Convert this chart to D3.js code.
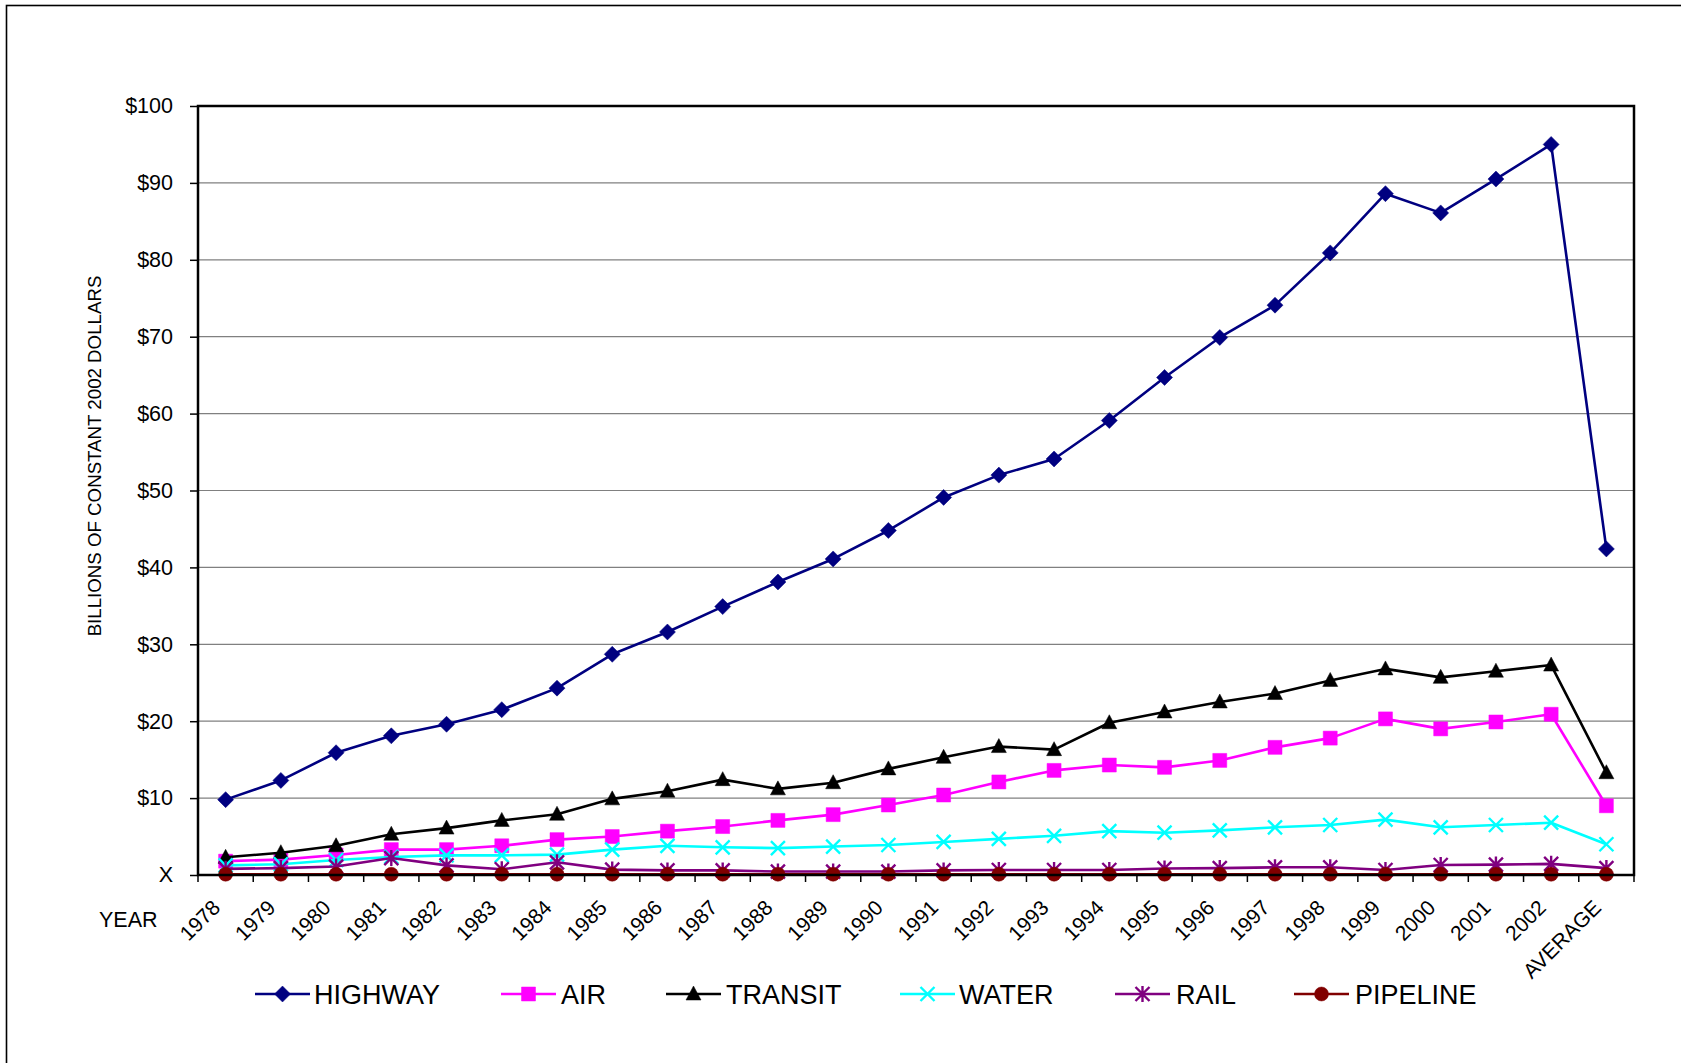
<!DOCTYPE html>
<html>
<head>
<meta charset="utf-8">
<script src="https://cdn.jsdelivr.net/npm/d3@7"></script>
<style>
  html, body { margin: 0; padding: 0; background: #fff; }
  svg { display: block; font-family: "Liberation Sans", Arial, sans-serif; }
</style>
</head>
<body>
<svg id="chart" width="1681" height="1063"></svg>
<script>
// Categories along the x axis
const categories = ["1978","1979","1980","1981","1982","1983","1984","1985","1986","1987",
  "1988","1989","1990","1991","1992","1993","1994","1995","1996","1997","1998","1999",
  "2000","2001","2002","AVERAGE"];

// Spending by mode, billions of constant 2002 dollars
const highway  = [9.8,12.3,15.9,18.1,19.6,21.5,24.3,28.7,31.6,34.9,38.1,41.1,44.8,49.1,52.0,54.1,59.1,64.7,69.9,74.1,80.9,88.6,86.1,90.5,95.0,42.4];
const air      = [1.8,2.0,2.6,3.3,3.3,3.8,4.6,5.0,5.7,6.3,7.1,7.85,9.1,10.4,12.1,13.6,14.3,14.0,14.9,16.6,17.8,20.3,19.0,19.9,20.9,9.0];
const transit  = [2.3,2.9,3.8,5.3,6.1,7.1,7.9,9.9,10.9,12.4,11.2,12.0,13.8,15.3,16.7,16.3,19.8,21.2,22.5,23.6,25.3,26.8,25.7,26.5,27.3,13.3];
const water    = [1.25,1.4,1.95,2.35,2.55,2.55,2.65,3.3,3.8,3.6,3.5,3.7,3.9,4.3,4.7,5.1,5.7,5.5,5.8,6.2,6.5,7.2,6.2,6.5,6.8,4.0];
const rail     = [0.8,0.9,1.1,2.2,1.25,0.75,1.65,0.7,0.6,0.6,0.45,0.45,0.45,0.6,0.65,0.65,0.65,0.85,0.9,1.0,1.0,0.65,1.3,1.35,1.45,0.9];
const pipeline = [0.1,0.1,0.1,0.1,0.1,0.1,0.1,0.1,0.1,0.1,0.1,0.1,0.1,0.1,0.1,0.1,0.1,0.1,0.1,0.1,0.1,0.1,0.1,0.1,0.1,0.1];

// Y axis tick values and labels
const yTickValues = [0,10,20,30,40,50,60,70,80,90,100];
const yTickLabels = ["X","$10","$20","$30","$40","$50","$60","$70","$80","$90","$100"];

const seriesNames = ["HIGHWAY","AIR","TRANSIT","WATER","RAIL","PIPELINE"];
const seriesData = [highway, air, transit, water, rail, pipeline];
const seriesColors = ["#000080","#FF00FF","#000000","#00FFFF","#800080","#800000"];
const seriesMarkers = ["diamond","square","triangle","cross","asterisk","circle"];

const svg = d3.select("#chart");
const plot = { left: 198, right: 1634, top: 106, bottom: 875 };

const x = d3.scaleBand().domain(categories).range([plot.left, plot.right]).padding(0);
const y = d3.scaleLinear().domain([0, 100]).range([plot.bottom, plot.top]);
const cx = c => x(c) + x.bandwidth() / 2;

// outer frame of the chart
svg.append("rect")
  .attr("x", 6.5).attr("y", 5.5).attr("width", 1700).attr("height", 1100)
  .attr("fill", "none").attr("stroke", "#000").attr("stroke-width", 1.6);

// horizontal gridlines
svg.append("g").selectAll("line").data(yTickValues.slice(1, -1)).join("line")
  .attr("x1", plot.left).attr("x2", plot.right)
  .attr("y1", d => y(d)).attr("y2", d => y(d))
  .attr("stroke", "#808080").attr("stroke-width", 1.2);

// y axis
const yAxis = d3.axisLeft(y).tickValues(yTickValues).tickSize(8).tickPadding(17)
  .tickFormat((d, i) => yTickLabels[i]);
const gy = svg.append("g").attr("transform", `translate(${plot.left},0)`).call(yAxis);
gy.select(".domain").remove();
gy.selectAll(".tick line").attr("stroke", "#000").attr("stroke-width", 1.5);
gy.selectAll(".tick text").attr("font-size", 21.5).attr("fill", "#000")
  .attr("font-family", "'Liberation Sans', Arial, sans-serif");

// x axis with ticks on category boundaries
const boundaries = categories.map(c => x(c)).concat([plot.right]);
svg.append("g").selectAll("line").data(boundaries).join("line")
  .attr("x1", d => d).attr("x2", d => d)
  .attr("y1", plot.bottom).attr("y2", plot.bottom + 7)
  .attr("stroke", "#000").attr("stroke-width", 1.5);

svg.append("g").selectAll("text").data(categories).join("text")
  .attr("transform", d => `translate(${cx(d) - 4},${plot.bottom + 34}) rotate(-45)`)
  .attr("text-anchor", "end")
  .attr("font-size", 21)
  .attr("fill", "#000")
  .text(d => d);

svg.append("text").attr("x", 99).attr("y", 927).attr("font-size", 21.5).attr("fill", "#000").text("YEAR");

// y axis title
svg.append("text")
  .attr("transform", `translate(101,456) rotate(-90)`)
  .attr("text-anchor", "middle").attr("font-size", 18.7).attr("fill", "#000")
  .text("BILLIONS OF CONSTANT 2002 DOLLARS");

// marker shapes
function markerPath(type) {
  switch (type) {
    case "diamond": return "M0,-8L8,0L0,8L-8,0Z";
    case "square": return "M-7,-7H7V7H-7Z";
    case "triangle": return "M0,-8L7.5,6L-7.5,6Z";
    case "circle": return "M-7,0A7,7 0 1,0 7,0A7,7 0 1,0 -7,0Z";
    case "cross": return "M-7,-7L7,7M-7,7L7,-7";
    case "asterisk": return "M-7,-7L7,7M-7,7L7,-7M0,-8V8";
  }
}
function drawMarker(g, type, color) {
  const filled = !(type === "cross" || type === "asterisk");
  g.append("path").attr("d", markerPath(type))
    .attr("fill", filled ? color : "none")
    .attr("stroke", color)
    .attr("stroke-width", filled ? 0.5 : 2.4);
}

const line = d3.line().x((d, i) => cx(categories[i])).y(d => y(d));

seriesData.forEach((vals, si) => {
  const g = svg.append("g");
  g.append("path").datum(vals).attr("d", line)
    .attr("fill", "none").attr("stroke", seriesColors[si]).attr("stroke-width", 2.6)
    .attr("stroke-linejoin", "round");
  vals.forEach((v, i) => {
    const m = g.append("g").attr("transform", `translate(${cx(categories[i])},${y(v)})`);
    drawMarker(m, seriesMarkers[si], seriesColors[si]);
  });
});

// plot frame
svg.append("rect")
  .attr("x", plot.left).attr("y", plot.top)
  .attr("width", plot.right - plot.left).attr("height", plot.bottom - plot.top)
  .attr("fill", "none").attr("stroke", "#000").attr("stroke-width", 2.5);

// legend
const legendItems = [
  { lineStart: 255, textX: 314 },
  { lineStart: 501, textX: 561 },
  { lineStart: 666, textX: 726 },
  { lineStart: 900, textX: 959 },
  { lineStart: 1115, textX: 1176 },
  { lineStart: 1294, textX: 1355 }
];
const legendY = 994;
const legend = svg.append("g");
seriesNames.forEach((name, i) => {
  const item = legend.append("g");
  const x0 = legendItems[i].lineStart;
  item.append("line").attr("x1", x0).attr("x2", x0 + 55)
    .attr("y1", legendY).attr("y2", legendY)
    .attr("stroke", seriesColors[i]).attr("stroke-width", 2.6);
  const m = item.append("g").attr("transform", `translate(${x0 + 27.5},${legendY})`);
  drawMarker(m, seriesMarkers[i], seriesColors[i]);
  item.append("text").attr("x", legendItems[i].textX).attr("y", legendY + 10)
    .attr("font-size", 27).attr("fill", "#000").text(name);
});
</script>
</body>
</html>
